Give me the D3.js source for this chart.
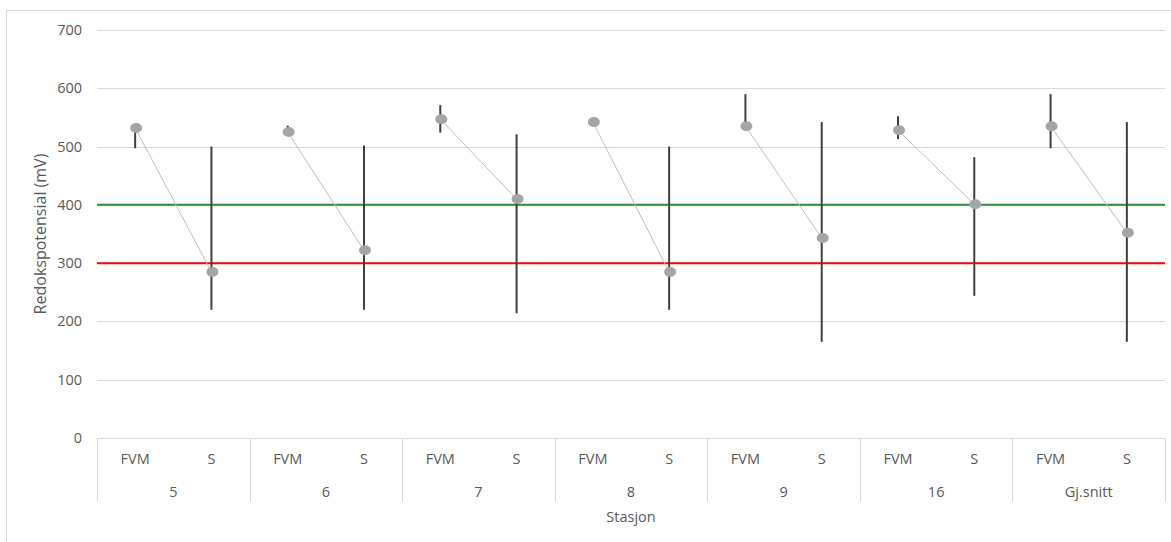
<!DOCTYPE html>
<html>
<head>
<meta charset="utf-8">
<script src="https://cdn.jsdelivr.net/npm/d3@7"></script>
<style>
  body { margin: 0; background: #fff; }
  text { font-family: "Open Sans", sans-serif; fill: #595959; }
</style>
</head>
<body>
<div id="chart"></div>
<script>
var width = 1171,
    height = 542

// data
var stations = ["5", "6", "7", "8", "9", "16", "Gj.snitt"];
var depths = ["FVM", "S"];
var meanFVM = [532, 525, 547, 542, 535, 528, 535];
var lowFVM  = [497, 525, 524, 542, 530, 513, 497];
var highFVM = [535, 536, 571, 542, 590, 552, 590];
var meanS = [285, 322, 410, 285, 343, 401, 352];
var lowS  = [220, 220, 214, 220, 165, 244, 165];
var highS = [500, 502, 521, 500, 542, 482, 542];
var yTicks = [0, 100, 200, 300, 400, 500, 600, 700];
var refGreen = 400, refRed = 300;

var margin = ({top: 30, right: 6, bottom: 104, left: 97});

var svg = d3.select("#chart").append("svg")
    .attr("width", width)
    .attr("height", height);

// chart border
svg.append("rect")
    .attr("x", 6.5).attr("y", 10.5)
    .attr("width", width).attr("height", height)
    .attr("fill", "none")
    .attr("stroke", "#d9d9d9");

var x0 = d3.scaleBand()
    .domain(stations)
    .range([margin.left, width - margin.right]);

var x1 = d3.scaleBand()
    .domain(depths)
    .range([0, x0.bandwidth()]);

var y = d3.scaleLinear()
    .domain([0, 700])
    .range([height - margin.bottom, margin.top]);

// gridlines
svg.append("g").selectAll("line")
    .data(yTicks.filter(d => d > 0)).enter()
    .append("line")
    .attr("x1", margin.left).attr("x2", width - margin.right)
    .attr("y1", d => Math.round(y(d)) + 0.5).attr("y2", d => Math.round(y(d)) + 0.5)
    .attr("stroke", "#d9d9d9");

// y labels
svg.append("g").selectAll("text")
    .data(yTicks).enter()
    .append("text")
    .attr("x", 82)
    .attr("y", d => y(d) + 5)
    .attr("text-anchor", "end")
    .attr("font-size", "14.5px")
    .text(d => d);

svg.append("text")
    .attr("transform", `translate(46,${y(350)}) rotate(-90)`)
    .attr("text-anchor", "middle")
    .attr("font-size", "16px")
    .text("Redokspotensial (mV)");

// x axis (two level)
var y0 = Math.round(y(0)) + 0.5;
svg.append("line")
    .attr("x1", margin.left).attr("x2", width - margin.right)
    .attr("y1", y0).attr("y2", y0)
    .attr("stroke", "#d9d9d9");

var bounds = stations.map(s => x0(s)).concat([width - margin.right]);
svg.append("g").selectAll("line")
    .data(bounds).enter()
    .append("line")
    .attr("x1", d => Math.round(d) + 0.5).attr("x2", d => Math.round(d) + 0.5)
    .attr("y1", y0).attr("y2", 502)
    .attr("stroke", "#d9d9d9");

stations.forEach(function(s) {
  depths.forEach(function(d) {
    svg.append("text")
      .attr("x", x0(s) + x1(d) + x1.bandwidth() / 2)
      .attr("y", 464)
      .attr("text-anchor", "middle")
      .attr("font-size", "14.5px")
      .text(d);
  });
  svg.append("text")
    .attr("x", x0(s) + x0.bandwidth() / 2)
    .attr("y", 497)
    .attr("text-anchor", "middle")
    .attr("font-size", "14.5px")
    .text(s);
});

svg.append("text")
    .attr("x", (margin.left + width - margin.right) / 2)
    .attr("y", 522)
    .attr("text-anchor", "middle")
    .attr("font-size", "14.5px")
    .text("Stasjon");

// reference lines
svg.append("line")
    .attr("x1", margin.left).attr("x2", width - margin.right)
    .attr("y1", y(refGreen)).attr("y2", y(refGreen))
    .attr("stroke", "#2f8f2f").attr("stroke-width", 2);
svg.append("line")
    .attr("x1", margin.left).attr("x2", width - margin.right)
    .attr("y1", y(refRed)).attr("y2", y(refRed))
    .attr("stroke", "#ff0000").attr("stroke-width", 2);

var cx = (s, d) => x0(s) + x1(d) + x1.bandwidth() / 2;

var rows = stations.map((s, i) => ({
  s: s,
  fvm: {m: meanFVM[i], lo: lowFVM[i], hi: highFVM[i]},
  sv: {m: meanS[i], lo: lowS[i], hi: highS[i]}
}));

// error bars
rows.forEach(function(r) {
  [["FVM", r.fvm], ["S", r.sv]].forEach(function(p) {
    svg.append("line")
      .attr("x1", cx(r.s, p[0])).attr("x2", cx(r.s, p[0]))
      .attr("y1", y(p[1].lo)).attr("y2", y(p[1].hi))
      .attr("stroke", "#404040").attr("stroke-width", 2);
  });
});

// connecting lines
svg.append("g").selectAll("line")
    .data(rows).enter()
    .append("line")
    .attr("x1", d => cx(d.s, "FVM")).attr("y1", d => y(d.fvm.m))
    .attr("x2", d => cx(d.s, "S")).attr("y2", d => y(d.sv.m))
    .attr("stroke", "#bfbfbf").attr("stroke-width", 1);

// markers
rows.forEach(function(r) {
  [["FVM", r.fvm], ["S", r.sv]].forEach(function(p) {
    svg.append("ellipse")
      .attr("cx", cx(r.s, p[0]) + 1).attr("cy", y(p[1].m))
      .attr("rx", 6).attr("ry", 5)
      .attr("fill", "#a5a5a5");
  });
});
</script>
</body>
</html>
